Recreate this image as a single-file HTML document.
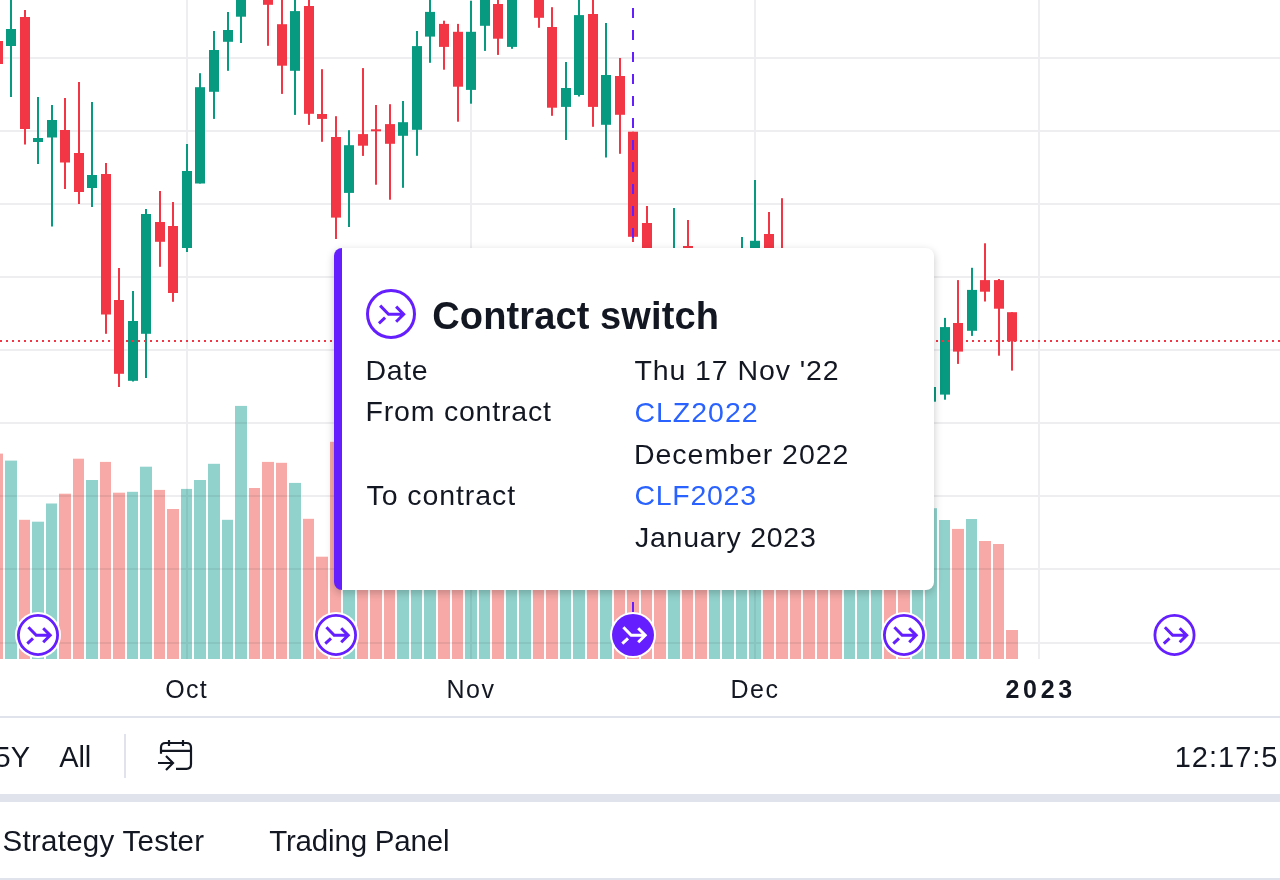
<!DOCTYPE html>
<html><head><meta charset="utf-8">
<style>
html,body{margin:0;padding:0;overflow:hidden;}
body{width:1280px;height:880px;overflow:hidden;background:#fff;position:relative;font-family:"Liberation Sans",sans-serif;color:#131722;}
.abs{position:absolute;}
#chart{position:absolute;left:0;top:0;}
#tip{position:absolute;left:334px;top:248px;width:592px;height:342px;background:#fff;border-left:8px solid #651fff;border-radius:8px;box-shadow:0 3px 9px rgba(0,0,0,0.22);}
.t{position:absolute;white-space:nowrap;font-size:26px;line-height:1;}
.blue{color:#2962ff;}
.ax{position:absolute;white-space:nowrap;font-size:24px;line-height:1;letter-spacing:1px;}
.tb{position:absolute;white-space:nowrap;font-size:28px;line-height:1;}
</style></head>
<body>
<svg id="chart" width="1280" height="660" viewBox="0 0 1280 660">
<rect x="-8" y="453.6" width="11" height="205.4" fill="#f7a9a7"/>
<rect x="5" y="460.6" width="12" height="198.4" fill="#92d2cc"/>
<rect x="19" y="519.8" width="11" height="139.2" fill="#f7a9a7"/>
<rect x="32" y="521.7" width="12" height="137.3" fill="#92d2cc"/>
<rect x="46" y="503.5" width="11" height="155.5" fill="#92d2cc"/>
<rect x="59" y="493.7" width="12" height="165.3" fill="#f7a9a7"/>
<rect x="73" y="458.7" width="11" height="200.3" fill="#f7a9a7"/>
<rect x="86" y="480.0" width="12" height="179.0" fill="#92d2cc"/>
<rect x="100" y="461.9" width="11" height="197.1" fill="#f7a9a7"/>
<rect x="113" y="492.7" width="12" height="166.3" fill="#f7a9a7"/>
<rect x="127" y="491.8" width="11" height="167.2" fill="#92d2cc"/>
<rect x="140" y="466.7" width="12" height="192.3" fill="#92d2cc"/>
<rect x="154" y="489.9" width="11" height="169.1" fill="#f7a9a7"/>
<rect x="167" y="509.0" width="12" height="150.0" fill="#f7a9a7"/>
<rect x="181" y="488.9" width="11" height="170.1" fill="#92d2cc"/>
<rect x="194" y="480.0" width="12" height="179.0" fill="#92d2cc"/>
<rect x="208" y="463.8" width="12" height="195.2" fill="#92d2cc"/>
<rect x="222" y="519.8" width="11" height="139.2" fill="#92d2cc"/>
<rect x="235" y="405.9" width="12" height="253.1" fill="#92d2cc"/>
<rect x="249" y="488.0" width="11" height="171.0" fill="#f7a9a7"/>
<rect x="262" y="461.9" width="12" height="197.1" fill="#f7a9a7"/>
<rect x="276" y="462.8" width="11" height="196.2" fill="#f7a9a7"/>
<rect x="289" y="482.9" width="12" height="176.1" fill="#92d2cc"/>
<rect x="303" y="518.8" width="11" height="140.2" fill="#f7a9a7"/>
<rect x="316" y="556.7" width="12" height="102.3" fill="#f7a9a7"/>
<rect x="330" y="441.8" width="11" height="217.2" fill="#f7a9a7"/>
<rect x="343" y="500.0" width="12" height="159.0" fill="#92d2cc"/>
<rect x="357" y="500.0" width="11" height="159.0" fill="#f7a9a7"/>
<rect x="370" y="500.0" width="12" height="159.0" fill="#f7a9a7"/>
<rect x="384" y="500.0" width="11" height="159.0" fill="#f7a9a7"/>
<rect x="397" y="500.0" width="12" height="159.0" fill="#92d2cc"/>
<rect x="411" y="500.0" width="11" height="159.0" fill="#92d2cc"/>
<rect x="424" y="500.0" width="12" height="159.0" fill="#92d2cc"/>
<rect x="438" y="500.0" width="12" height="159.0" fill="#f7a9a7"/>
<rect x="452" y="500.0" width="11" height="159.0" fill="#f7a9a7"/>
<rect x="465" y="500.0" width="12" height="159.0" fill="#92d2cc"/>
<rect x="479" y="500.0" width="11" height="159.0" fill="#92d2cc"/>
<rect x="492" y="500.0" width="12" height="159.0" fill="#f7a9a7"/>
<rect x="506" y="500.0" width="11" height="159.0" fill="#92d2cc"/>
<rect x="519" y="500.0" width="12" height="159.0" fill="#92d2cc"/>
<rect x="533" y="500.0" width="11" height="159.0" fill="#f7a9a7"/>
<rect x="546" y="500.0" width="12" height="159.0" fill="#f7a9a7"/>
<rect x="560" y="500.0" width="11" height="159.0" fill="#92d2cc"/>
<rect x="573" y="500.0" width="12" height="159.0" fill="#92d2cc"/>
<rect x="587" y="500.0" width="11" height="159.0" fill="#f7a9a7"/>
<rect x="600" y="500.0" width="12" height="159.0" fill="#92d2cc"/>
<rect x="614" y="500.0" width="11" height="159.0" fill="#f7a9a7"/>
<rect x="627" y="500.0" width="12" height="159.0" fill="#f7a9a7"/>
<rect x="641" y="500.0" width="11" height="159.0" fill="#f7a9a7"/>
<rect x="654" y="500.0" width="12" height="159.0" fill="#f7a9a7"/>
<rect x="668" y="500.0" width="12" height="159.0" fill="#92d2cc"/>
<rect x="682" y="500.0" width="11" height="159.0" fill="#f7a9a7"/>
<rect x="695" y="500.0" width="12" height="159.0" fill="#f7a9a7"/>
<rect x="709" y="500.0" width="11" height="159.0" fill="#92d2cc"/>
<rect x="722" y="500.0" width="12" height="159.0" fill="#92d2cc"/>
<rect x="736" y="500.0" width="11" height="159.0" fill="#92d2cc"/>
<rect x="749" y="500.0" width="12" height="159.0" fill="#92d2cc"/>
<rect x="763" y="500.0" width="11" height="159.0" fill="#f7a9a7"/>
<rect x="776" y="500.0" width="12" height="159.0" fill="#f7a9a7"/>
<rect x="790" y="500.0" width="11" height="159.0" fill="#f7a9a7"/>
<rect x="803" y="500.0" width="12" height="159.0" fill="#f7a9a7"/>
<rect x="817" y="500.0" width="11" height="159.0" fill="#f7a9a7"/>
<rect x="830" y="500.0" width="12" height="159.0" fill="#f7a9a7"/>
<rect x="844" y="500.0" width="11" height="159.0" fill="#92d2cc"/>
<rect x="857" y="500.0" width="12" height="159.0" fill="#92d2cc"/>
<rect x="871" y="500.0" width="11" height="159.0" fill="#92d2cc"/>
<rect x="884" y="500.0" width="12" height="159.0" fill="#f7a9a7"/>
<rect x="898" y="500.0" width="12" height="159.0" fill="#f7a9a7"/>
<rect x="912" y="500.0" width="11" height="159.0" fill="#92d2cc"/>
<rect x="925" y="508.2" width="12" height="150.8" fill="#92d2cc"/>
<rect x="939" y="520.0" width="11" height="139.0" fill="#92d2cc"/>
<rect x="952" y="528.9" width="12" height="130.1" fill="#f7a9a7"/>
<rect x="966" y="519.0" width="11" height="140.0" fill="#92d2cc"/>
<rect x="979" y="541.0" width="12" height="118.0" fill="#f7a9a7"/>
<rect x="993" y="544.0" width="11" height="115.0" fill="#f7a9a7"/>
<rect x="1006" y="630.0" width="12" height="29.0" fill="#f7a9a7"/>
<g style="mix-blend-mode:multiply">
<rect x="0" y="57" width="1280" height="2" fill="#eeeef0"/>
<rect x="0" y="130" width="1280" height="2" fill="#eeeef0"/>
<rect x="0" y="203" width="1280" height="2" fill="#eeeef0"/>
<rect x="0" y="276" width="1280" height="2" fill="#eeeef0"/>
<rect x="0" y="349" width="1280" height="2" fill="#eeeef0"/>
<rect x="0" y="422" width="1280" height="2" fill="#eeeef0"/>
<rect x="0" y="495" width="1280" height="2" fill="#eeeef0"/>
<rect x="0" y="568" width="1280" height="2" fill="#eeeef0"/>
<rect x="0" y="642" width="1280" height="2" fill="#eeeef0"/>
<rect x="186" y="0" width="2" height="659" fill="#eeeef0"/>
<rect x="470" y="0" width="2" height="659" fill="#eeeef0"/>
<rect x="754" y="0" width="2" height="659" fill="#eeeef0"/>
<rect x="1038" y="0" width="2" height="659" fill="#eeeef0"/>
</g>
<rect x="-7.0" y="41.0" width="10" height="23.0" fill="#f23645"/>
<rect x="10.0" y="-10.0" width="2" height="107.0" fill="#089981"/>
<rect x="6.0" y="29.0" width="10" height="17.0" fill="#089981"/>
<rect x="24.0" y="10.0" width="2" height="134.5" fill="#f23645"/>
<rect x="20.0" y="17.0" width="10" height="112.0" fill="#f23645"/>
<rect x="37.0" y="97.0" width="2" height="67.0" fill="#089981"/>
<rect x="33.0" y="138.0" width="10" height="4.0" fill="#089981"/>
<rect x="51.0" y="105.0" width="2" height="121.5" fill="#089981"/>
<rect x="47.0" y="120.0" width="10" height="17.5" fill="#089981"/>
<rect x="64.0" y="98.0" width="2" height="91.0" fill="#f23645"/>
<rect x="60.0" y="130.0" width="10" height="32.5" fill="#f23645"/>
<rect x="78.0" y="82.0" width="2" height="122.0" fill="#f23645"/>
<rect x="74.0" y="153.0" width="10" height="39.0" fill="#f23645"/>
<rect x="91.0" y="102.0" width="2" height="105.0" fill="#089981"/>
<rect x="87.0" y="175.0" width="10" height="13.0" fill="#089981"/>
<rect x="105.0" y="163.0" width="2" height="170.8" fill="#f23645"/>
<rect x="101.0" y="174.0" width="10" height="140.5" fill="#f23645"/>
<rect x="118.0" y="268.0" width="2" height="119.0" fill="#f23645"/>
<rect x="114.0" y="300.0" width="10" height="73.8" fill="#f23645"/>
<rect x="132.0" y="291.0" width="2" height="90.5" fill="#089981"/>
<rect x="128.0" y="321.0" width="10" height="59.8" fill="#089981"/>
<rect x="145.0" y="209.0" width="2" height="169.0" fill="#089981"/>
<rect x="141.0" y="214.0" width="10" height="119.8" fill="#089981"/>
<rect x="159.0" y="191.0" width="2" height="75.8" fill="#f23645"/>
<rect x="155.0" y="222.0" width="10" height="19.8" fill="#f23645"/>
<rect x="172.0" y="202.0" width="2" height="99.8" fill="#f23645"/>
<rect x="168.0" y="226.0" width="10" height="67.0" fill="#f23645"/>
<rect x="186.0" y="144.0" width="2" height="108.0" fill="#089981"/>
<rect x="182.0" y="171.0" width="10" height="77.0" fill="#089981"/>
<rect x="199.0" y="73.2" width="2" height="110.3" fill="#089981"/>
<rect x="195.0" y="87.2" width="10" height="96.3" fill="#089981"/>
<rect x="213.0" y="31.0" width="2" height="87.9" fill="#089981"/>
<rect x="209.0" y="50.0" width="10" height="41.8" fill="#089981"/>
<rect x="227.0" y="12.0" width="2" height="58.8" fill="#089981"/>
<rect x="223.0" y="30.0" width="10" height="11.8" fill="#089981"/>
<rect x="240.0" y="-10.0" width="2" height="53.0" fill="#089981"/>
<rect x="236.0" y="-5.0" width="10" height="21.7" fill="#089981"/>
<rect x="267.0" y="-10.0" width="2" height="55.8" fill="#f23645"/>
<rect x="263.0" y="-20.0" width="10" height="24.8" fill="#f23645"/>
<rect x="281.0" y="-10.0" width="2" height="103.9" fill="#f23645"/>
<rect x="277.0" y="24.2" width="10" height="41.5" fill="#f23645"/>
<rect x="294.0" y="-10.0" width="2" height="124.9" fill="#089981"/>
<rect x="290.0" y="11.1" width="10" height="59.7" fill="#089981"/>
<rect x="308.0" y="-10.0" width="2" height="134.9" fill="#f23645"/>
<rect x="304.0" y="6.0" width="10" height="107.8" fill="#f23645"/>
<rect x="321.0" y="69.2" width="2" height="72.6" fill="#f23645"/>
<rect x="317.0" y="114.0" width="10" height="4.9" fill="#f23645"/>
<rect x="335.0" y="116.2" width="2" height="122.8" fill="#f23645"/>
<rect x="331.0" y="137.0" width="10" height="80.6" fill="#f23645"/>
<rect x="348.0" y="130.2" width="2" height="96.8" fill="#089981"/>
<rect x="344.0" y="145.2" width="10" height="47.7" fill="#089981"/>
<rect x="362.0" y="68.1" width="2" height="87.8" fill="#f23645"/>
<rect x="358.0" y="134.1" width="10" height="11.6" fill="#f23645"/>
<rect x="375.0" y="105.0" width="2" height="79.7" fill="#f23645"/>
<rect x="371.0" y="129.3" width="10" height="2.0" fill="#f23645"/>
<rect x="389.0" y="104.2" width="2" height="95.5" fill="#f23645"/>
<rect x="385.0" y="124.1" width="10" height="19.7" fill="#f23645"/>
<rect x="402.0" y="101.0" width="2" height="86.8" fill="#089981"/>
<rect x="398.0" y="122.2" width="10" height="13.6" fill="#089981"/>
<rect x="416.0" y="31.0" width="2" height="124.8" fill="#089981"/>
<rect x="412.0" y="46.1" width="10" height="83.7" fill="#089981"/>
<rect x="429.0" y="-10.0" width="2" height="72.8" fill="#089981"/>
<rect x="425.0" y="11.9" width="10" height="24.7" fill="#089981"/>
<rect x="443.0" y="20.7" width="2" height="49.0" fill="#f23645"/>
<rect x="439.0" y="23.9" width="10" height="23.0" fill="#f23645"/>
<rect x="457.0" y="23.9" width="2" height="97.8" fill="#f23645"/>
<rect x="453.0" y="31.8" width="10" height="54.9" fill="#f23645"/>
<rect x="470.0" y="0.8" width="2" height="102.9" fill="#089981"/>
<rect x="466.0" y="31.8" width="10" height="58.1" fill="#089981"/>
<rect x="484.0" y="-10.0" width="2" height="60.9" fill="#089981"/>
<rect x="480.0" y="-5.0" width="10" height="30.8" fill="#089981"/>
<rect x="497.0" y="-10.0" width="2" height="64.9" fill="#f23645"/>
<rect x="493.0" y="4.0" width="10" height="34.7" fill="#f23645"/>
<rect x="511.0" y="-10.0" width="2" height="58.8" fill="#089981"/>
<rect x="507.0" y="-5.0" width="10" height="51.9" fill="#089981"/>
<rect x="538.0" y="-10.0" width="2" height="37.8" fill="#f23645"/>
<rect x="534.0" y="-5.0" width="10" height="22.8" fill="#f23645"/>
<rect x="551.0" y="7.2" width="2" height="108.6" fill="#f23645"/>
<rect x="547.0" y="27.0" width="10" height="80.7" fill="#f23645"/>
<rect x="565.0" y="62.0" width="2" height="78.0" fill="#089981"/>
<rect x="561.0" y="88.0" width="10" height="18.9" fill="#089981"/>
<rect x="578.0" y="-10.0" width="2" height="106.5" fill="#089981"/>
<rect x="574.0" y="15.1" width="10" height="79.9" fill="#089981"/>
<rect x="592.0" y="-10.0" width="2" height="136.8" fill="#f23645"/>
<rect x="588.0" y="14.0" width="10" height="92.9" fill="#f23645"/>
<rect x="605.0" y="23.0" width="2" height="134.5" fill="#089981"/>
<rect x="601.0" y="75.0" width="10" height="49.8" fill="#089981"/>
<rect x="619.0" y="58.0" width="2" height="95.8" fill="#f23645"/>
<rect x="615.0" y="76.0" width="10" height="38.8" fill="#f23645"/>
<rect x="632.0" y="131.7" width="2" height="110.3" fill="#f23645"/>
<rect x="628.0" y="131.7" width="10" height="105.1" fill="#f23645"/>
<rect x="646.0" y="206.0" width="2" height="114.0" fill="#f23645"/>
<rect x="642.0" y="223.0" width="10" height="77.0" fill="#f23645"/>
<rect x="673.0" y="208.0" width="2" height="122.0" fill="#089981"/>
<rect x="669.0" y="300.0" width="10" height="20.0" fill="#089981"/>
<rect x="687.0" y="220.0" width="2" height="60.0" fill="#f23645"/>
<rect x="683.0" y="246.0" width="10" height="16.0" fill="#f23645"/>
<rect x="741.0" y="237.0" width="2" height="63.0" fill="#089981"/>
<rect x="737.0" y="260.0" width="10" height="20.0" fill="#089981"/>
<rect x="754.0" y="180.0" width="2" height="140.0" fill="#089981"/>
<rect x="750.0" y="240.8" width="10" height="59.2" fill="#089981"/>
<rect x="768.0" y="212.0" width="2" height="108.0" fill="#f23645"/>
<rect x="764.0" y="234.0" width="10" height="66.0" fill="#f23645"/>
<rect x="781.0" y="198.2" width="2" height="121.8" fill="#f23645"/>
<rect x="777.0" y="260.0" width="10" height="40.0" fill="#f23645"/>
<rect x="930.0" y="370.0" width="2" height="40.0" fill="#089981"/>
<rect x="926.0" y="387.0" width="10" height="14.7" fill="#089981"/>
<rect x="944.0" y="317.9" width="2" height="81.8" fill="#089981"/>
<rect x="940.0" y="327.1" width="10" height="67.5" fill="#089981"/>
<rect x="957.0" y="280.1" width="2" height="83.8" fill="#f23645"/>
<rect x="953.0" y="323.0" width="10" height="28.6" fill="#f23645"/>
<rect x="971.0" y="267.8" width="2" height="68.1" fill="#089981"/>
<rect x="967.0" y="289.9" width="10" height="40.9" fill="#089981"/>
<rect x="984.0" y="243.3" width="2" height="58.2" fill="#f23645"/>
<rect x="980.0" y="280.1" width="10" height="11.6" fill="#f23645"/>
<rect x="998.0" y="279.0" width="2" height="76.7" fill="#f23645"/>
<rect x="994.0" y="280.1" width="10" height="28.6" fill="#f23645"/>
<rect x="1011.0" y="312.2" width="2" height="58.4" fill="#f23645"/>
<rect x="1007.0" y="312.2" width="10" height="29.2" fill="#f23645"/>
<line x1="0" y1="341" x2="1280" y2="341" stroke="#f23645" stroke-width="2" stroke-dasharray="2 4"/>
<line x1="633" y1="8" x2="633" y2="612" stroke="#651fff" stroke-width="2" stroke-dasharray="10 12"/>
</svg>
<svg class="abs" style="left:0;top:0" width="1280" height="660" viewBox="0 0 1280 660">
<circle cx="38" cy="635" r="23" fill="#fff"/>
<circle cx="38" cy="635" r="19.6" fill="#fff" stroke="#651fff" stroke-width="2.8"/>
<path d="M28.40 627.20 L36.20 635.20 L50.20 635.20 M43.20 628.20 L50.20 635.20 L43.20 642.20 M27.30 643.60 L33.00 638.30" fill="none" stroke="#651fff" stroke-width="3" stroke-linecap="butt"/>
<circle cx="336" cy="635" r="23" fill="#fff"/>
<circle cx="336" cy="635" r="19.6" fill="#fff" stroke="#651fff" stroke-width="2.8"/>
<path d="M326.40 627.20 L334.20 635.20 L348.20 635.20 M341.20 628.20 L348.20 635.20 L341.20 642.20 M325.30 643.60 L331.00 638.30" fill="none" stroke="#651fff" stroke-width="3" stroke-linecap="butt"/>
<circle cx="633" cy="635" r="23" fill="#fff"/>
<circle cx="633" cy="635" r="21" fill="#651fff"/>
<path d="M623.40 627.20 L631.20 635.20 L645.20 635.20 M638.20 628.20 L645.20 635.20 L638.20 642.20 M622.30 643.60 L628.00 638.30" fill="none" stroke="#fff" stroke-width="3" stroke-linecap="butt"/>
<circle cx="904" cy="635" r="23" fill="#fff"/>
<circle cx="904" cy="635" r="19.6" fill="#fff" stroke="#651fff" stroke-width="2.8"/>
<path d="M894.40 627.20 L902.20 635.20 L916.20 635.20 M909.20 628.20 L916.20 635.20 L909.20 642.20 M893.30 643.60 L899.00 638.30" fill="none" stroke="#651fff" stroke-width="3" stroke-linecap="butt"/>
<circle cx="1174.5" cy="635" r="23" fill="#fff"/>
<circle cx="1174.5" cy="635" r="19.6" fill="#fff" stroke="#651fff" stroke-width="2.8"/>
<path d="M1164.90 627.20 L1172.70 635.20 L1186.70 635.20 M1179.70 628.20 L1186.70 635.20 L1179.70 642.20 M1163.80 643.60 L1169.50 638.30" fill="none" stroke="#651fff" stroke-width="3" stroke-linecap="butt"/>
</svg>
<div id="tip"></div>
<svg class="abs" style="left:0;top:0" width="1280" height="660" viewBox="0 0 1280 660">
<circle cx="391" cy="314" r="23.5" fill="none" stroke="#651fff" stroke-width="3"/>
<path d="M380.13 305.58 L388.56 314.22 L403.68 314.22 M396.12 306.66 L403.68 314.22 L396.12 321.78 M378.94 323.29 L385.10 317.56" fill="none" stroke="#651fff" stroke-width="3" stroke-linecap="butt"/>
</svg>
<div class="t" style="left:432.3px;top:297.0px;font-size:38px;letter-spacing:0.11px;font-weight:bold;">Contract switch</div>
<div class="t" style="left:365.5px;top:355.7px;font-size:28.5px;letter-spacing:0.6px;">Date</div>
<div class="t" style="left:634.4px;top:355.7px;font-size:28.5px;letter-spacing:0.91px;">Thu 17 Nov '22</div>
<div class="t" style="left:365.5px;top:397.2px;font-size:28.5px;letter-spacing:0.8px;">From contract</div>
<div class="t" style="left:634.4px;top:397.5px;font-size:28.5px;letter-spacing:1.0px;color:#2962ff;">CLZ2022</div>
<div class="t" style="left:634.0px;top:439.7px;font-size:28.5px;letter-spacing:0.97px;">December 2022</div>
<div class="t" style="left:366.5px;top:481.2px;font-size:28.5px;letter-spacing:0.92px;">To contract</div>
<div class="t" style="left:634.4px;top:481.0px;font-size:28.5px;letter-spacing:0.73px;color:#2962ff;">CLF2023</div>
<div class="t" style="left:635.0px;top:523.1px;font-size:28.5px;letter-spacing:0.73px;">January 2023</div>
<div class="t" style="left:165.3px;top:676.7px;font-size:25px;letter-spacing:1.3px;">Oct</div>
<div class="t" style="left:446.5px;top:676.7px;font-size:25px;letter-spacing:1.5px;">Nov</div>
<div class="t" style="left:730.5px;top:676.7px;font-size:25px;letter-spacing:1.5px;">Dec</div>
<div class="t" style="left:1005.5px;top:676.7px;font-size:25px;letter-spacing:3.67px;font-weight:bold;">2023</div>
<div class="abs" style="left:0;top:716px;width:1280px;height:2px;background:#e0e3eb;"></div>

<div class="t" style="left:-5.5px;top:742.8px;font-size:29px;letter-spacing:0px;">5Y</div>
<div class="t" style="left:59.3px;top:742.6px;font-size:29px;letter-spacing:-0.2px;">All</div>
<div class="abs" style="left:124px;top:734px;width:2px;height:44px;background:#e0e3eb;"></div>
<svg class="abs" style="left:150px;top:732px" width="50" height="46" viewBox="150 732 50 46">
<path d="M161 753.8 V747.5 Q161 743 165.5 743 H186.5 Q191 743 191 747.5 V764.3 Q191 768.8 186.5 768.8 H176" fill="none" stroke="#131722" stroke-width="2.2"/>
<path d="M161 750.8 H191 M169 740 V746 M183 740 V746" fill="none" stroke="#131722" stroke-width="2.2"/>
<path d="M158 763 H173 M166 756 L173 763 L166 770" fill="none" stroke="#131722" stroke-width="2.2"/>
</svg>
<div class="t" style="left:1174.7px;top:742.9px;font-size:29px;letter-spacing:1.0px;">12:17:5</div>
<div class="abs" style="left:0;top:794px;width:1280px;height:8px;background:#e0e3eb;"></div>
<div class="t" style="left:2.6px;top:825.6px;font-size:29.5px;letter-spacing:0.26px;">Strategy Tester</div>
<div class="t" style="left:269.2px;top:825.6px;font-size:29.5px;letter-spacing:-0.18px;">Trading Panel</div>
<div class="abs" style="left:0;top:878px;width:1280px;height:2px;background:#e0e3eb;"></div>
</body></html>
